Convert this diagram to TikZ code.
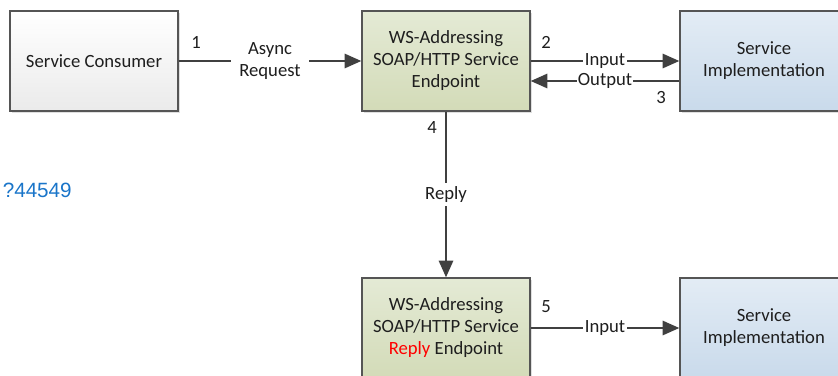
\documentclass[tikz,border=0pt]{standalone}
\usepackage{fontspec}
\setmainfont{Carlito}
\newfontfamily\linkfont{Liberation Sans}
\usetikzlibrary{arrows.meta,positioning,shadows}

\definecolor{boxline}{HTML}{555555}
\definecolor{textgray}{HTML}{1E1E1E}
\definecolor{flowgray}{HTML}{404040}
\definecolor{greentop}{HTML}{E4EAD5}
\definecolor{greenbot}{HTML}{D3DBB8}
\definecolor{bluetop}{HTML}{E3ECF5}
\definecolor{bluebot}{HTML}{C9DAEB}
\definecolor{linkblue}{HTML}{1A75C9}

\tikzset{
  box/.style={draw=boxline, line width=0.9pt, minimum width=126pt,
    minimum height=75pt, align=center, text=textgray,
    font=\fontsize{14}{16.5}\selectfont,
    drop shadow={shadow xshift=1.5pt, shadow yshift=-1.5pt, opacity=0.25}},
  plainbox/.style={box, top color=white, bottom color=black!8},
  endpoint/.style={box, top color=greentop, bottom color=greenbot},
  implbox/.style={box, top color=bluetop, bottom color=bluebot},
  flow/.style={draw=flowgray, line width=2pt,
    -{Triangle[length=12.5pt,width=10.5pt]}},
  flowlabel/.style={fill=white, text=textgray, inner sep=1pt, align=center,
    font=\fontsize{14}{16.5}\selectfont},
  stepnum/.style={text=textgray, font=\fontsize{14}{16.5}\selectfont}
}

\begin{document}
\begin{tikzpicture}[x=0.75pt,y=-0.75pt]
   \useasboundingbox (0,0) rectangle (838,375);
   % boxes
   \node[plainbox] (consumer) at (94,61) {Service Consumer};
   \node[endpoint] (ws) at (446,61) {WS-Addressing\\SOAP/HTTP Service\\Endpoint};
   \node[implbox] (impl) at (764,61) {Service\\Implementation};
   \node[endpoint] (wsreply) at (446,328)
     {WS-Addressing\\SOAP/HTTP Service\\{\color{red}Reply} Endpoint};
   \node[implbox] (impl2) at (764,328) {Service\\Implementation};
   % connectors
   \draw[flow] (consumer) -- node[flowlabel, inner sep=6pt] {Async\\Request} (ws);
   \draw[flow] (ws.east) -- node[flowlabel] {Input} (impl.west);
   \draw[flow] ([yshift=-15pt]impl.west) -- node[flowlabel] {Output} ([yshift=-15pt]ws.east);
   \draw[flow] (ws) -- node[flowlabel, inner sep=3pt] {Reply} (wsreply);
   \draw[flow] (wsreply) -- node[flowlabel] {Input} (impl2);
   % step numbers
   \node[stepnum] (n1) at (196,42) {1};
   \node[stepnum] (n2) at (546,42) {2};
   \node[stepnum] (n3) at (661,98) {3};
   \node[stepnum] (n4) at (432,128) {4};
   \node[stepnum] (n5) at (546,307) {5};
   % link fragment
   \node[anchor=east, inner sep=0pt, text=linkblue,
     font=\linkfont\fontsize{15.5}{17}\selectfont] (link) at (72,190) {?44549};
\end{tikzpicture}
\end{document}
